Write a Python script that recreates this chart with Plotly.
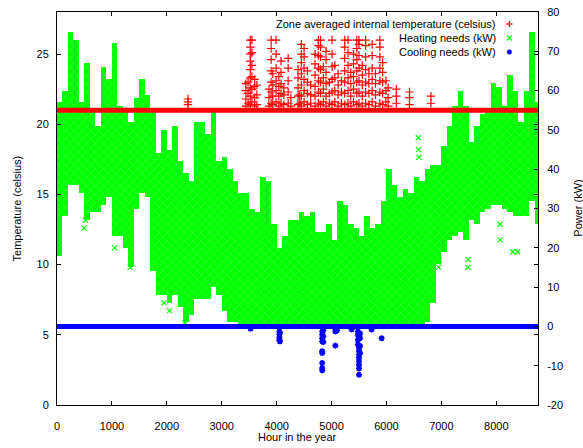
import plotly.graph_objects as go

# ---------------- data ----------------
hour_ticks = [0, 1000, 2000, 3000, 4000, 5000, 6000, 7000, 8000]
temp_ticks = [0, 5, 10, 15, 20, 25]
power_ticks = [-20, -10, 0, 10, 20, 30, 40, 50, 60, 70, 80]
power_ticktext = ["-20", "-10", "0", "10", "20", "30", "40", "50", "60", "70", "80"]

# Zone averaged internal temperature (celsius): setpoint plateau + summer excursions
temp_plateau_hours = [0, 8760]
temp_plateau = [21.0, 21.0]
temp_col_hours = [2385, 3440, 3480, 3520, 3550, 3600, 3640, 3860, 3900, 3930,
                  3990, 4040, 4080, 4130, 4210, 4260, 4390, 4420, 4450, 4500,
                  4560, 4620, 4700, 4760, 4800, 4850, 4900, 4960, 5010, 5060,
                  5120, 5180, 5240, 5300, 5350, 5400, 5460, 5500, 5560, 5620,
                  5680, 5740, 5800, 5880, 5930, 5990, 6030, 6180, 6420, 6810]
temp_col_values = [
    [21.4, 21.6, 21.8],
    [21.3, 21.8, 22.4, 22.9],
    [21.5, 22.2, 23.0],
    [21.4, 22.0, 22.6, 23.3, 23.9, 24.5, 25.0, 25.5, 26.0],
    [21.6, 22.5, 23.4, 24.2, 25.1, 26.0],
    [21.3, 21.9, 22.7, 23.2],
    [21.4, 22.1, 22.8],
    [21.3, 21.9, 22.5],
    [21.5, 22.3, 23.0, 23.8, 24.6, 25.4, 26.0],
    [21.4, 22.0, 22.8, 23.6],
    [21.6, 22.4, 23.1, 24.0, 25.0, 26.0],
    [21.3, 22.0, 22.7, 23.4],
    [21.5, 22.2, 22.9, 23.7, 24.5],
    [21.4, 22.1, 22.6],
    [21.5, 22.3, 23.1, 24.0, 24.7],
    [21.3, 21.9],
    [21.4, 22.0, 22.6, 23.3, 23.9],
    [21.5, 22.1],
    [21.3, 22.0, 22.8, 23.6, 24.4, 25.0, 25.7],
    [21.6, 22.4, 23.2, 24.0, 24.8, 25.4],
    [21.4, 22.2, 23.0, 23.8],
    [21.5, 22.1, 22.8],
    [21.3, 22.0, 22.7, 23.5, 24.3, 25.0],
    [21.5, 22.3, 23.1, 24.0, 24.9, 25.6, 26.0],
    [21.4, 22.2, 23.0, 23.9, 24.8, 25.5, 26.0],
    [21.6, 22.5, 23.3, 24.1],
    [21.3, 22.0, 22.9, 23.7, 24.6, 25.2],
    [21.5, 22.2, 23.0],
    [21.4, 22.3, 23.2, 24.1, 25.0, 26.0],
    [21.6, 22.4, 23.3, 24.2],
    [21.3, 22.1, 22.8, 23.6],
    [21.5, 22.3, 23.1],
    [21.4, 22.2, 23.0, 23.8, 24.7, 25.5, 26.0],
    [21.5, 22.4, 23.3, 24.2, 25.1, 26.0],
    [21.3, 22.0, 22.9, 23.7],
    [21.6, 22.5, 23.4, 24.3, 25.0],
    [21.4, 22.2, 23.0, 23.8, 24.6, 25.4, 26.0],
    [21.5, 22.3, 23.1, 24.0, 24.9, 25.7, 26.0],
    [21.3, 22.0, 22.8, 23.5, 24.2],
    [21.5, 22.3, 23.0, 23.9, 24.8, 25.6, 26.0],
    [21.4, 22.2, 22.9, 23.6],
    [21.6, 22.4, 23.2, 24.0, 24.9, 25.7],
    [21.3, 22.1, 22.9, 23.6],
    [21.5, 22.3, 23.1, 24.0, 24.8, 25.5, 26.0],
    [21.4, 22.2, 23.0, 23.7, 24.4],
    [21.6, 22.4, 23.1],
    [21.3, 21.9, 22.6],
    [21.5, 22.0, 22.5],
    [21.4, 21.9, 22.3],
    [21.5, 22.0],
]

# Heating needs (kW): spread of the hourly values in 100-hour blocks
heat_bin_start = [0, 100, 200, 300, 400, 500, 600, 700, 800, 900,
                  1000, 1100, 1200, 1300, 1400, 1500, 1600, 1700, 1800, 1900,
                  2000, 2100, 2200, 2300, 2400, 2500, 2600, 2700, 2800, 2900,
                  3000, 3100, 3200, 3300, 3400, 3500, 3600, 3700, 3800, 3900,
                  4000, 4100, 4200, 4300, 4400, 4500, 4600, 4700, 4800, 4900,
                  5000, 5100, 5200, 5300, 5400, 5500, 5600, 5700, 5800, 5900,
                  6000, 6100, 6200, 6300, 6400, 6500, 6600, 6700, 6800, 6900,
                  7000, 7100, 7200, 7300, 7400, 7500, 7600, 7700, 7800, 7900,
                  8000, 8100, 8200, 8300, 8400, 8500, 8600, 8700]
heat_bin_end_last = 8760
heat_min = [18, 28, 36, 36, 34, 27, 29, 29, 31, 33,
            23, 23, 20, 15, 30, 34, 33, 14, 8, 8,
            6, 8, 5, 1, 3, 7, 7, 7, 10, 8,
            4, 1, 1, 0, 0, 0, 0, 0, 0, 0,
            0, 0, 0, 0, 0, 0, 0, 0, 0, 0,
            0, 0, 0, 0, 0, 0, 0, 0, 0, 0,
            0, 0, 0, 0, 0, 0, 0, 1, 6, 16,
            19, 22, 23, 24, 22, 27, 26, 29, 30, 31,
            31, 30, 29, 28, 28, 28, 32, 26]
heat_max = [57, 60, 75, 73, 57, 67, 55, 51, 66, 63,
            72, 56, 55, 52, 58, 63, 59, 55, 44, 50,
            45, 51, 42, 39, 37, 52, 52, 49, 55, 42,
            43, 40, 37, 34, 34, 30, 29, 38, 37, 26,
            20, 23, 27, 27, 29, 28, 29, 24, 24, 26,
            22, 32, 31, 26, 25, 23, 28, 25, 26, 32,
            40, 36, 33, 35, 34, 38, 37, 40, 41, 41,
            46, 51, 56, 60, 56, 47, 51, 54, 55, 62,
            61, 56, 64, 60, 52, 60, 75, 57]
heat_out_hours = [490, 520, 1050, 1330, 1360, 1950, 2050, 2330, 2360, 3050,
                  3060, 6580, 6585, 6590, 6950, 6960, 7480, 7490, 8065, 8070,
                  8300, 8390]
heat_out_kw = [25, 27, 20, 15, 16, 6, 4, 1, 2, 7,
               9, 48, 45, 43, 15, 17, 15, 17, 26, 22,
               19, 19]

# Cooling needs (kW): zero plateau + summer dips
cool_plateau_hours = [0, 8760]
cool_plateau = [0.0, 0.0]
cool_hours = [3525,
              4050, 4050, 4050, 4050, 4060, 4060,
              4830, 4830, 4830, 4830, 4830, 4830, 4830, 4830, 4830,
              4850, 4850, 4850,
              5070, 5070, 5070, 5100, 5365,
              5480, 5480, 5480, 5480,
              5500, 5500, 5500, 5500, 5500, 5500, 5500, 5500,
              5520, 5520, 5520, 5520,
              5730, 5912]
cool_kw = [-0.6,
           -1.3, -2.0, -2.8, -3.5, -1.6, -3.8,
           -1.3, -2.1, -3.0, -3.8, -6.3, -6.8, -9.3, -10.6, -11.2,
           -1.0, -2.5, -4.0,
           -0.8, -1.3, -4.9, -1.0, -0.8,
           -1.3, -2.2, -3.4, -4.6,
           -5.5, -6.3, -7.2, -8.0, -8.9, -9.8, -10.7, -12.3,
           -1.8, -3.0, -5.0, -6.8,
           -0.8, -3.0]

legend_labels = ["Zone averaged internal temperature (celsius)",
                 "Heating needs (kW)", "Cooling needs (kW)"]

# ---------------- figure ----------------
RED, GREEN, BLUE = "#ff0000", "#00ff00", "#0000ff"

heat_bin_end = heat_bin_start[1:] + [heat_bin_end_last]
heat_width = [e - s for s, e in zip(heat_bin_start, heat_bin_end)]
heat_span = [mx - mn for mn, mx in zip(heat_min, heat_max)]

temp_exc_hours, temp_exc = [], []
for h, vals in zip(temp_col_hours, temp_col_values):
    for v in vals:
        temp_exc_hours.append(h)
        temp_exc.append(v)

fig = go.Figure()
# power axis (y, drawn on the right) traces
fig.add_trace(go.Bar(x=heat_bin_start, y=heat_span, base=heat_min, width=heat_width,
                     offset=0,
                     marker=dict(color=GREEN, line=dict(width=0),
                                 pattern=dict(shape="x", fgcolor="#d8ffd8", bgcolor=GREEN,
                                              size=6, solidity=0.12)),
                     yaxis="y", hoverinfo="skip"))
fig.add_trace(go.Scatter(x=heat_out_hours, y=heat_out_kw, mode="markers", yaxis="y",
                         marker=dict(symbol="x-thin", size=5, color=GREEN,
                                     line=dict(width=1.2, color=GREEN))))
fig.add_trace(go.Scatter(x=cool_plateau_hours, y=cool_plateau, mode="lines", yaxis="y",
                         line=dict(color=BLUE, width=5)))
fig.add_trace(go.Scatter(x=cool_hours, y=cool_kw, mode="markers", yaxis="y",
                         marker=dict(symbol="asterisk", size=5, color=BLUE,
                                     line=dict(width=1.6, color=BLUE))))
# temperature axis (y2, drawn on the left) traces
fig.add_trace(go.Scatter(x=temp_plateau_hours, y=temp_plateau, mode="lines", yaxis="y2",
                         line=dict(color=RED, width=5)))
fig.add_trace(go.Scatter(x=temp_exc_hours, y=temp_exc, mode="markers", yaxis="y2",
                         marker=dict(symbol="cross-thin", size=6, color=RED,
                                     line=dict(width=1.2, color=RED))))

FONT = "Liberation Sans, Arial, Helvetica, sans-serif"
axis_common = dict(showgrid=False, zeroline=False, showline=True, linecolor="black",
                   linewidth=1, ticks="inside", ticklen=4, tickcolor="black",
                   automargin=False,
                   tickfont=dict(family=FONT, size=11, color="black"))

fig.update_layout(
    width=583, height=448,
    margin=dict(l=57, r=45, t=12, b=43, pad=0),
    paper_bgcolor="white", plot_bgcolor="white",
    showlegend=False, bargap=0, barmode="overlay",
    font=dict(family=FONT, size=11, color="black"),
    xaxis=dict(range=[0, 8760], tickvals=hour_ticks, mirror="ticks",
               ticklabelstandoff=11, **axis_common),
    yaxis=dict(range=[-20, 80], side="right", tickvals=power_ticks,
               ticktext=power_ticktext, ticklabelstandoff=6, **axis_common),
    yaxis2=dict(range=[0, 28], side="left", overlaying="y", anchor="x",
                tickvals=temp_ticks, mirror="ticks", ticklabelstandoff=5,
                **axis_common),
)

# axis titles
fig.add_annotation(text="Hour in the year", xref="paper", yref="paper",
                   x=0.5, y=-0.0814, xanchor="center", yanchor="middle",
                   showarrow=False, font=dict(size=11))
fig.add_annotation(text="Temperature (celsius)", xref="paper", yref="paper",
                   x=-0.0832, y=0.5, xanchor="center", yanchor="middle",
                   textangle=-90, showarrow=False, font=dict(size=11))
fig.add_annotation(text="Power (kW)", xref="paper", yref="paper",
                   x=1.0815, y=0.5, xanchor="center", yanchor="middle",
                   textangle=-90, showarrow=False, font=dict(size=11))

# key (text right-aligned, sample to the right, as in the reference)
key_y = [0.9695, 0.9338, 0.8982]
for lab, ky in zip(legend_labels, key_y):
    fig.add_annotation(text=lab, xref="paper", yref="paper", x=0.9175, y=ky,
                       xanchor="right", yanchor="middle", showarrow=False,
                       font=dict(size=11))

kx = 0.9405
def seg(xa, ya, x0, y0, x1, y1, color, w):
    fig.add_shape(type="line", xref="paper", yref="paper", xsizemode="pixel",
                  ysizemode="pixel", xanchor=xa, yanchor=ya, x0=x0, y0=y0, x1=x1, y1=y1,
                  line=dict(color=color, width=w))

seg(kx, key_y[0], -3, 0, 3, 0, RED, 1.3)
seg(kx, key_y[0], 0, -3, 0, 3, RED, 1.3)
seg(kx, key_y[1], -2.5, -2.5, 2.5, 2.5, GREEN, 1.3)
seg(kx, key_y[1], -2.5, 2.5, 2.5, -2.5, GREEN, 1.3)
seg(kx, key_y[2], -2.5, 0, 2.5, 0, BLUE, 1.6)
seg(kx, key_y[2], 0, -2.5, 0, 2.5, BLUE, 1.6)
seg(kx, key_y[2], -1.8, -1.8, 1.8, 1.8, BLUE, 1.6)
seg(kx, key_y[2], -1.8, 1.8, 1.8, -1.8, BLUE, 1.6)

fig.write_html("out.html", config={"displayModeBar": False},
               post_script="document.body.style.margin='0';document.body.style.overflow='hidden';")
